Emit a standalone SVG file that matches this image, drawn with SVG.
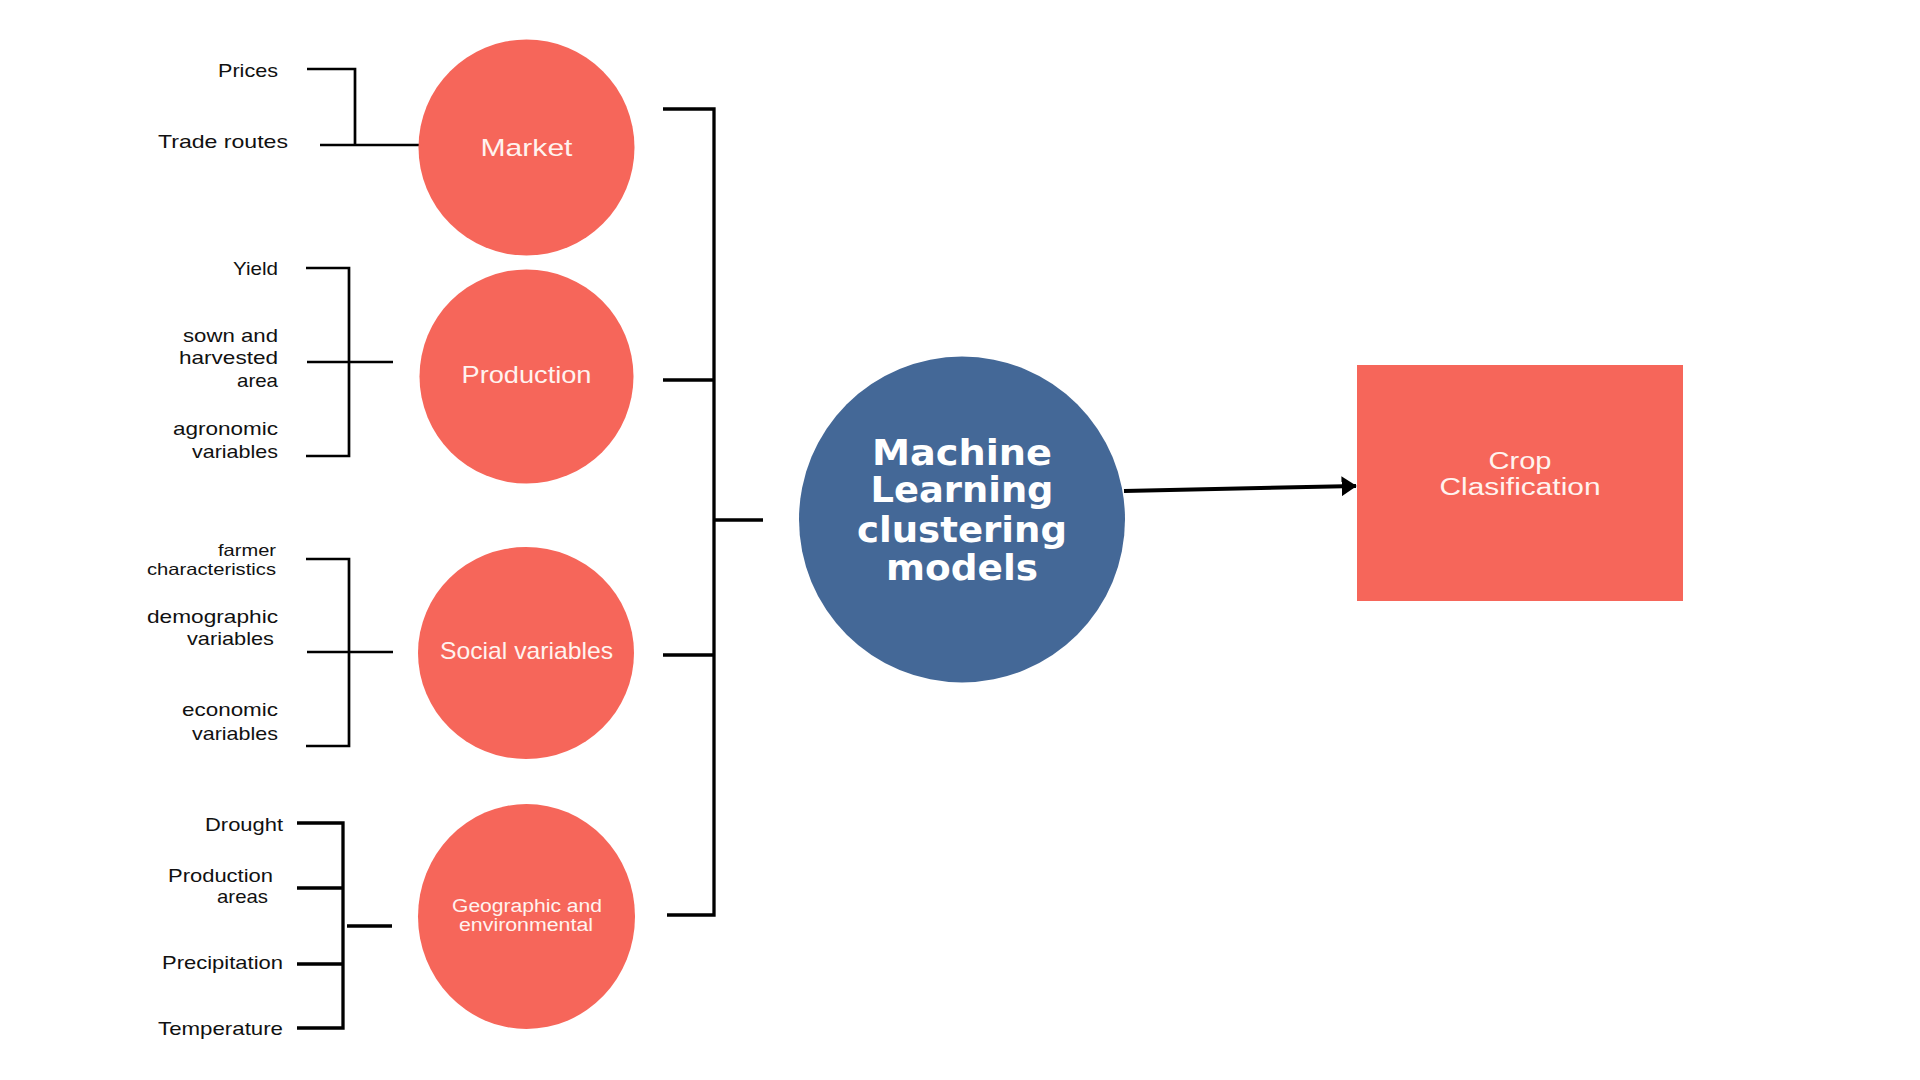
<svg xmlns="http://www.w3.org/2000/svg" width="1920" height="1080" viewBox="0 0 1920 1080">
<defs>
<style>
.lbl{font-family:"Liberation Sans",Arial,sans-serif;font-size:18.5px;fill:#111;text-anchor:end}
.sm{font-size:16.5px}
.node{fill:#F6665A}
.ntxt{font-family:"Liberation Sans",Arial,sans-serif;fill:#FFF3EF;text-anchor:middle}
.ml{font-family:"DejaVu Sans",sans-serif;font-weight:bold;font-size:35px;fill:#FFFFFF;text-anchor:middle}
.br{fill:none;stroke:#000;stroke-width:2.7}
.br2{fill:none;stroke:#000;stroke-width:3.3}
</style>
<marker id="ah" markerWidth="5" markerHeight="6" refX="3.6" refY="2.7" orient="auto" markerUnits="strokeWidth">
<path d="M0,0.2 L3.8,2.7 L0,5.2 Z" fill="#000"/>
</marker>
</defs>
<rect width="1920" height="1080" fill="#FFFFFF"/>

<g id="connectors">
<path class="br" d="M307,69 H355 V145 M320,145 H419"/>
<path class="br" d="M306,268 H349 V456 H306 M307,362 H393"/>
<path class="br" d="M306,559 H349 V746 H306 M307,652 H393"/>
<path class="br2" d="M297,823 H343 V1028 H297 M297,888 H343 M297,964 H343 M347,926 H392"/>
<path class="br2" d="M663,109 H714 V915 H667 M663,380 H714 M663,655 H714 M714,520 H763"/>
<line x1="1124" y1="491" x2="1356" y2="486" stroke="#000" stroke-width="4" marker-end="url(#ah)"/>
</g>

<g id="labels-market">
<text class="lbl" x="278" y="77" textLength="60" lengthAdjust="spacingAndGlyphs">Prices</text>
<text class="lbl" x="288" y="148" textLength="130" lengthAdjust="spacingAndGlyphs">Trade routes</text>
</g>
<g id="labels-production">
<text class="lbl" x="278" y="275" textLength="45" lengthAdjust="spacingAndGlyphs">Yield</text>
<text class="lbl" x="278" y="342" textLength="95" lengthAdjust="spacingAndGlyphs">sown and</text>
<text class="lbl" x="278" y="364" textLength="99" lengthAdjust="spacingAndGlyphs">harvested</text>
<text class="lbl" x="278" y="387" textLength="41" lengthAdjust="spacingAndGlyphs">area</text>
<text class="lbl" x="278" y="435" textLength="105" lengthAdjust="spacingAndGlyphs">agronomic</text>
<text class="lbl" x="278" y="458" textLength="86" lengthAdjust="spacingAndGlyphs">variables</text>
</g>
<g id="labels-social">
<text class="lbl sm" x="276" y="556" textLength="58" lengthAdjust="spacingAndGlyphs">farmer</text>
<text class="lbl sm" x="276" y="575" textLength="129" lengthAdjust="spacingAndGlyphs">characteristics</text>
<text class="lbl" x="278" y="623" textLength="131" lengthAdjust="spacingAndGlyphs">demographic</text>
<text class="lbl" x="274" y="645" textLength="87" lengthAdjust="spacingAndGlyphs">variables</text>
<text class="lbl" x="278" y="716" textLength="96" lengthAdjust="spacingAndGlyphs">economic</text>
<text class="lbl" x="278" y="740" textLength="86" lengthAdjust="spacingAndGlyphs">variables</text>
</g>
<g id="labels-geo">
<text class="lbl" x="283" y="831" textLength="78" lengthAdjust="spacingAndGlyphs">Drought</text>
<text class="lbl" x="273" y="882" textLength="105" lengthAdjust="spacingAndGlyphs">Production</text>
<text class="lbl" x="268" y="903" textLength="51" lengthAdjust="spacingAndGlyphs">areas</text>
<text class="lbl" x="283" y="969" textLength="121" lengthAdjust="spacingAndGlyphs">Precipitation</text>
<text class="lbl" x="283" y="1035" textLength="125" lengthAdjust="spacingAndGlyphs">Temperature</text>
</g>

<g id="node-market">
<circle class="node" cx="526.5" cy="147.5" r="108"/>
<text class="ntxt" x="526.5" y="156" font-size="24.5" textLength="92" lengthAdjust="spacingAndGlyphs">Market</text>
</g>
<g id="node-production">
<circle class="node" cx="526.5" cy="376.5" r="107"/>
<text class="ntxt" x="526.5" y="383" font-size="24" textLength="130" lengthAdjust="spacingAndGlyphs">Production</text>
</g>
<g id="node-social">
<ellipse class="node" cx="526" cy="653" rx="108" ry="106"/>
<text class="ntxt" x="526.5" y="659" font-size="24" textLength="173" lengthAdjust="spacingAndGlyphs">Social variables</text>
</g>
<g id="node-geo">
<ellipse class="node" cx="526.5" cy="916.5" rx="108.5" ry="112.5"/>
<text class="ntxt" x="527" y="912" font-size="18" textLength="150" lengthAdjust="spacingAndGlyphs">Geographic and</text>
<text class="ntxt" x="526" y="931" font-size="18" textLength="134" lengthAdjust="spacingAndGlyphs">environmental</text>
</g>
<g id="node-ml">
<circle cx="962" cy="519.5" r="163" fill="#446897"/>
<text class="ml" x="962" y="465" textLength="180" lengthAdjust="spacingAndGlyphs">Machine</text>
<text class="ml" x="962" y="502" textLength="183" lengthAdjust="spacingAndGlyphs">Learning</text>
<text class="ml" x="962" y="542" textLength="210" lengthAdjust="spacingAndGlyphs">clustering</text>
<text class="ml" x="962" y="580" textLength="152" lengthAdjust="spacingAndGlyphs">models</text>
</g>
<g id="node-crop">
<rect x="1357" y="365" width="326" height="236" fill="#F6665A"/>
<text class="ntxt" x="1520" y="469" font-size="23" textLength="63" lengthAdjust="spacingAndGlyphs">Crop</text>
<text class="ntxt" x="1520" y="495" font-size="23" textLength="161" lengthAdjust="spacingAndGlyphs">Clasification</text>
</g>
</svg>
